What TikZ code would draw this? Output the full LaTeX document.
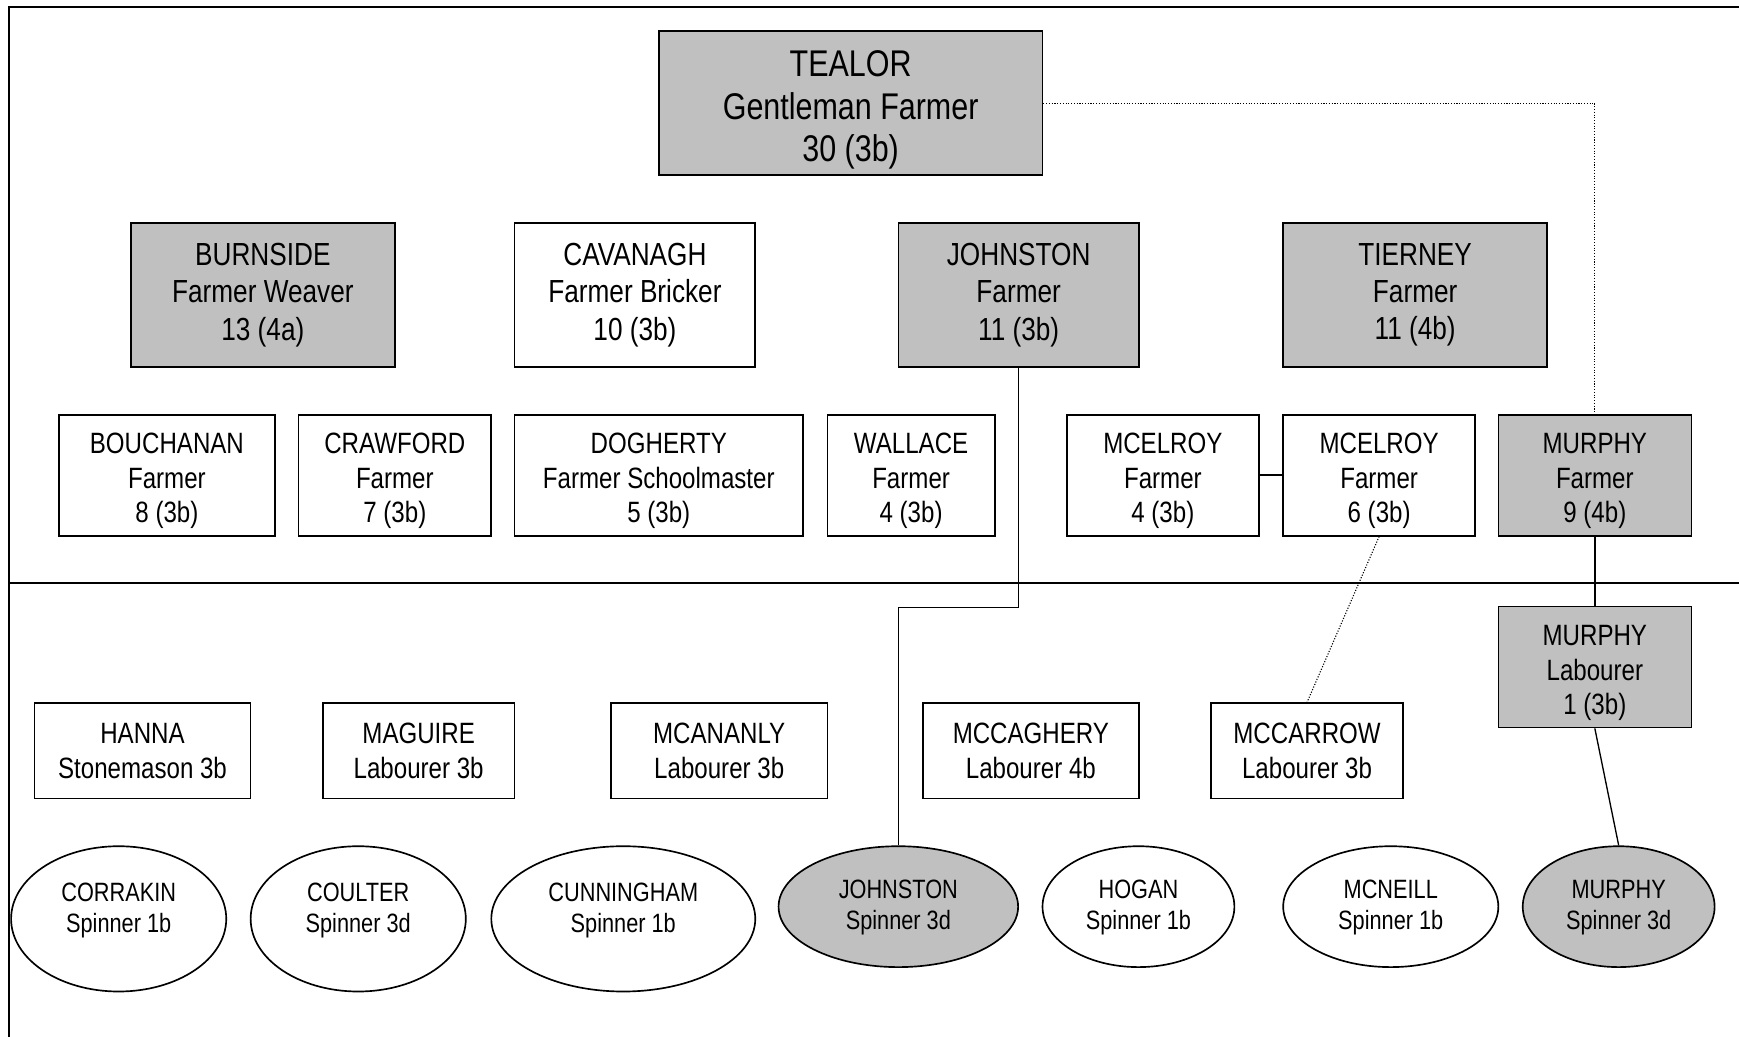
\documentclass[tikz,border=0pt]{standalone}
\usepackage{fontspec}
\setmainfont[FakeStretch=0.82]{Liberation Sans}
\usetikzlibrary{shapes.geometric}
\definecolor{boxgray}{HTML}{C0C0C0}
\newcommand\mystrutb{\rule{0pt}{29pt}}
\newcommand\mystrutt{\rule{0pt}{36pt}}
\begin{document}
\begin{tikzpicture}[x=1pt,y=-1pt,
  box/.style={draw, line width=1.5pt, rectangle, inner sep=0pt, align=center},
  gbox/.style={box, fill=boxgray},
  topfont/.style={font=\fontsize{33.5}{38.5}\selectfont},
  rowa/.style={minimum width=#1, minimum height=130pt, font=\fontsize{28.8}{33.5}\selectfont},
  rowb/.style={minimum width=#1, minimum height=109pt, font=\fontsize{26.5}{31}\selectfont},
  rowc/.style={minimum width=#1, minimum height=86pt, font=\fontsize{26.5}{32}\selectfont},
  ell/.style={draw, line width=1.5pt, ellipse, inner sep=0pt, minimum width=#1},
  etext/.style={align=center, inner sep=0pt, font=\fontsize{23.9}{28}\selectfont},
  frame/.style={line width=1.6pt},
  conn/.style={line width=1.2pt},
  dotconn/.style={line width=1pt, dash pattern=on 1pt off 1.5pt}
]
\useasboundingbox (0,0) rectangle (1568,935);
\fill[white] (0,0) rectangle (1568,935);
% frame
\draw[frame] (1568,6) -- (8,6) -- (8,935);
\draw[frame] (8,526) -- (1568,526);

% top
\node[gbox, topfont, minimum width=346pt, minimum height=130pt] (tealor) at (767,93) {\mystrutt TEALOR\\Gentleman Farmer\\30 (3b)};

% row 1
\node[gbox, rowa=238pt] (burnside) at (237,266) {BURNSIDE\\Farmer Weaver\\13 (4a)};
\node[box, rowa=217pt] (cavanagh) at (572.5,266) {CAVANAGH\\Farmer Bricker\\10 (3b)};
\node[gbox, rowa=217pt] (johnstonf) at (918.5,266) {JOHNSTON\\Farmer\\11 (3b)};
\node[gbox, rowa=238pt] (tierney) at (1276,266) {TIERNEY\\Farmer\\11 (4b)};

% row 2
\node[box, rowb=195pt] (bouchanan) at (150.5,428.5) {\mystrutb BOUCHANAN\\Farmer\\8 (3b)};
\node[box, rowb=174pt] (crawford) at (356,428.5) {\mystrutb CRAWFORD\\Farmer\\7 (3b)};
\node[box, rowb=260pt] (dogherty) at (594,428.5) {\mystrutb DOGHERTY\\Farmer Schoolmaster\\5 (3b)};
\node[box, rowb=151pt] (wallace) at (821.5,428.5) {\mystrutb WALLACE\\Farmer\\4 (3b)};
\node[box, rowb=173pt] (mcelroya) at (1048.5,428.5) {\mystrutb MCELROY\\Farmer\\4 (3b)};
\node[box, rowb=173pt] (mcelroyb) at (1243.5,428.5) {\mystrutb MCELROY\\Farmer\\6 (3b)};
\node[gbox, rowb=174pt] (murphyf) at (1438,428.5) {\mystrutb MURPHY\\Farmer\\9 (4b)};

% murphy labourer
\node[gbox, rowb=174pt] (murphyl) at (1438,601.5) {\mystrutb MURPHY\\Labourer\\1 (3b)};

% row 3
\node[box, rowc=195pt] (hanna) at (128.5,677) {HANNA\\Stonemason 3b};
\node[box, rowc=173pt] (maguire) at (377.5,677) {MAGUIRE\\Labourer 3b};
\node[box, rowc=195pt] (mcananly) at (648.5,677) {MCANANLY\\Labourer 3b};
\node[box, rowc=195pt] (mccaghery) at (929.5,677) {MCCAGHERY\\Labourer 4b};
\node[box, rowc=173pt] (mccarrow) at (1178.5,677) {MCCARROW\\Labourer 3b};

% ellipses
\node[ell=194pt, minimum height=131pt] (corrakin) at (107,828.5) {};
\node[etext] (corrakint) at (107,821) {CORRAKIN\\Spinner 1b};
\node[ell=194pt, minimum height=131pt] (coulter) at (323,828.5) {};
\node[etext] (coultert) at (323,821) {COULTER\\Spinner 3d};
\node[ell=238pt, minimum height=131pt] (cunningham) at (562,828.5) {};
\node[etext] (cunninghamt) at (562,821) {CUNNINGHAM\\Spinner 1b};
\node[ell=216pt, minimum height=109pt, fill=boxgray] (johnstone) at (810,817.5) {};
\node[etext] (johnstonet) at (810,818) {JOHNSTON\\Spinner 3d};
\node[ell=173pt, minimum height=109pt] (hogan) at (1026.5,817.5) {};
\node[etext] (hogant) at (1026.5,818) {HOGAN\\Spinner 1b};
\node[ell=194pt, minimum height=109pt] (mcneill) at (1254,817.5) {};
\node[etext] (mcneillt) at (1254,818) {MCNEILL\\Spinner 1b};
\node[ell=173pt, minimum height=109pt, fill=boxgray] (murphye) at (1459.5,817.5) {};
\node[etext] (murphyet) at (1459.5,818) {MURPHY\\Spinner 3d};

% connectors
\draw[dotconn] (tealor.east) -| (murphyf.north);
\draw[conn] (johnstonf.south) -- ++(0,216) -| (johnstone.north);
\draw[line width=1.5pt] (mcelroya) -- (mcelroyb);
\draw[dotconn] (mcelroyb.south) -- (mccarrow.north);
\draw[conn] (murphyf) -- (murphyl);
\draw[conn] (murphyl.south) -- (murphye.north);
\end{tikzpicture}
\end{document}
